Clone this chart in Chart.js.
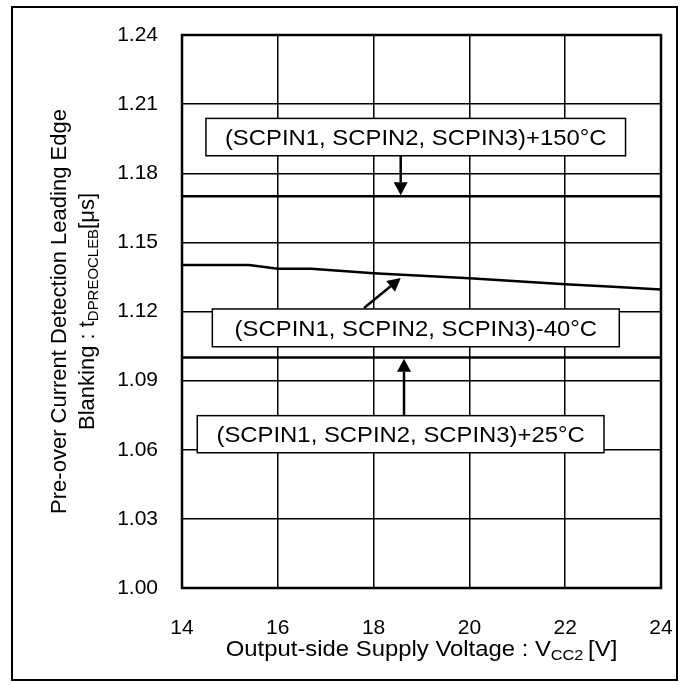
<!DOCTYPE html>
<html>
<head>
<meta charset="utf-8">
<script src="https://cdn.jsdelivr.net/npm/chart.js@4.4.1/dist/chart.umd.min.js"></script>
<style>
  html, body { margin: 0; padding: 0; background: #fff; }
  #wrap { position: relative; width: 686px; height: 685px; }
</style>
</head>
<body>
<div id="wrap"><canvas id="chartTdpreocleb"></canvas></div>
<script>
// 出力側電源電圧 VCC2 [V]
const vcc2 = [14, 15, 15.4, 16, 16.7, 18, 19, 20, 21, 22, 23, 24];
// -40°C の曲線 [μs]
const tMinus40 = [1.1402, 1.1402, 1.1402, 1.1386, 1.1385, 1.1366, 1.1355, 1.1344, 1.1331, 1.1318, 1.1307, 1.1296];
// +25°C / +150°C はほぼ一定
const vcc2Flat = [14, 16, 18, 20, 22, 24];
const tPlus25 = [1.1, 1.1, 1.1, 1.1, 1.1, 1.1];
const tPlus150 = [1.17, 1.17, 1.17, 1.17, 1.17, 1.17];
// 目盛り
const xTicks = [14, 16, 18, 20, 22, 24];
const yTicks = [1.0, 1.03, 1.06, 1.09, 1.12, 1.15, 1.18, 1.21, 1.24];

const FONT = "'Liberation Sans', Arial, sans-serif";
const TEXT_STRETCH = 1.085; // 元画像の文字は横に少し広い

// 注釈ボックス（データ座標）
const labelBoxes = [
  { text: "(SCPIN1, SCPIN2, SCPIN3)+150°C", x0: 14.5, x1: 23.26, y0: 1.1876, y1: 1.2038 },
  { text: "(SCPIN1, SCPIN2, SCPIN3)-40°C", x0: 14.633, x1: 23.129, y0: 1.1047, y1: 1.1211 },
  { text: "(SCPIN1, SCPIN2, SCPIN3)+25°C", x0: 14.319, x1: 22.81, y0: 1.0587, y1: 1.0748 },
];
// 矢印（データ座標）
const arrows = [
  { from: [18.566, 1.1876], to: [18.566, 1.1705] },
  { from: [17.8, 1.1215], to: [18.566, 1.1345] },
  { from: [18.635, 1.0748], to: [18.635, 1.0995] },
];

function toPoints(xs, ys) {
  return xs.map((x, i) => ({ x: x, y: ys[i] }));
}

// 下付き文字を含むテキストを描く（cx, cy は中心）
function drawRich(ctx, parts, cx, cy, size, stretch) {
  let total = 0;
  parts.forEach((p) => {
    ctx.font = (p.sub ? size * 0.68 : size) + "px " + FONT;
    p.w = ctx.measureText(p.t).width;
    total += p.w;
  });
  ctx.save();
  ctx.translate(cx, cy);
  ctx.scale(stretch || 1, 1);
  let x = -total / 2;
  ctx.textAlign = "left";
  ctx.textBaseline = "alphabetic";
  parts.forEach((p) => {
    ctx.font = (p.sub ? size * 0.68 : size) + "px " + FONT;
    ctx.fillText(p.t, x, size * 0.36 + (p.sub ? size * 0.2 : 0));
    x += p.w;
  });
  ctx.restore();
}

const annotatePlugin = {
  id: "annotate",
  afterDatasetsDraw(chart) {
    const ctx = chart.ctx;
    const xs = chart.scales.x;
    const ys = chart.scales.y;
    const area = chart.chartArea;
    ctx.save();
    ctx.strokeStyle = "#000";
    ctx.fillStyle = "#000";

    // プロット枠
    ctx.lineWidth = 2.5;
    ctx.strokeRect(area.left, area.top, area.right - area.left, area.bottom - area.top);

    // ボックス
    labelBoxes.forEach((b) => {
      const l = xs.getPixelForValue(b.x0);
      const r = xs.getPixelForValue(b.x1);
      const t = ys.getPixelForValue(b.y1);
      const btm = ys.getPixelForValue(b.y0);
      ctx.fillStyle = "#fff";
      ctx.fillRect(l, t, r - l, btm - t);
      ctx.lineWidth = 1.5;
      ctx.strokeRect(l, t, r - l, btm - t);
      ctx.fillStyle = "#000";
      drawRich(ctx, [{ t: b.text }], (l + r) / 2, (t + btm) / 2, 22, TEXT_STRETCH);
    });

    // 矢印
    arrows.forEach((a) => {
      const x1 = xs.getPixelForValue(a.from[0]);
      const y1 = ys.getPixelForValue(a.from[1]);
      const x2 = xs.getPixelForValue(a.to[0]);
      const y2 = ys.getPixelForValue(a.to[1]);
      const ang = Math.atan2(y2 - y1, x2 - x1);
      const head = 13;
      const half = 7;
      const bx = x2 - head * Math.cos(ang);
      const by = y2 - head * Math.sin(ang);
      ctx.lineWidth = 2.5;
      ctx.beginPath();
      ctx.moveTo(x1, y1);
      ctx.lineTo(bx, by);
      ctx.stroke();
      ctx.beginPath();
      ctx.moveTo(x2, y2);
      ctx.lineTo(bx + half * Math.sin(ang), by - half * Math.cos(ang));
      ctx.lineTo(bx - half * Math.sin(ang), by + half * Math.cos(ang));
      ctx.closePath();
      ctx.fill();
    });
    ctx.restore();
  },
  afterDraw(chart) {
    const ctx = chart.ctx;
    const area = chart.chartArea;
    ctx.save();
    ctx.fillStyle = "#000";
    ctx.strokeStyle = "#000";

    // 外枠
    ctx.lineWidth = 2;
    ctx.strokeRect(12, 7, 665, 673);

    // X軸タイトル
    drawRich(
      ctx,
      [{ t: "Output-side Supply Voltage : V" }, { t: "CC2", sub: true }, { t: "\u2009[V]" }],
      (area.left + area.right) / 2,
      648,
      22,
      TEXT_STRETCH
    );

    // Y軸タイトル（2行）
    const cy = (area.top + area.bottom) / 2;
    ctx.save();
    ctx.translate(58, cy);
    ctx.rotate(-Math.PI / 2);
    drawRich(ctx, [{ t: "Pre-over Current Detection Leading Edge" }], 0, 0, 22);
    ctx.restore();
    ctx.save();
    ctx.translate(86, cy);
    ctx.rotate(-Math.PI / 2);
    drawRich(ctx, [{ t: "Blanking : t" }, { t: "DPREOCLEB", sub: true }, { t: "[μs]" }], 0, 0, 22);
    ctx.restore();

    ctx.restore();
  },
};

const lineStyle = {
  borderColor: "#000",
  borderWidth: 2.5,
  pointRadius: 0,
  showLine: true,
  fill: false,
  tension: 0,
};

const chartConfig = {
  type: "scatter",
  data: {
    datasets: [
      Object.assign({ label: "+150°C", data: toPoints(vcc2Flat, tPlus150) }, lineStyle),
      Object.assign({ label: "-40°C", data: toPoints(vcc2, tMinus40) }, lineStyle),
      Object.assign({ label: "+25°C", data: toPoints(vcc2Flat, tPlus25) }, lineStyle),
    ],
  },
  options: {
    responsive: true,
    maintainAspectRatio: false,
    animation: false,
    layout: {
      padding: { top: 35, right: 25, left: 0, bottom: 0 },
    },
    plugins: {
      legend: { display: false },
      tooltip: { enabled: false },
    },
    scales: {
      x: {
        type: "linear",
        min: 14,
        max: 24,
        afterBuildTicks: (scale) => {
          scale.ticks = xTicks.map((v) => ({ value: v }));
        },
        afterFit: (scale) => {
          scale.height = 97;
          scale.paddingLeft = 0;
          scale.paddingRight = 0;
        },
        grid: { color: "#000", lineWidth: 1.5, drawTicks: false },
        border: { display: false },
        ticks: {
          color: "#000",
          padding: 28,
          maxRotation: 0,
          font: { family: FONT, size: 21 },
          callback: (v) => String(v),
        },
      },
      y: {
        type: "linear",
        min: 1.0,
        max: 1.24,
        afterBuildTicks: (scale) => {
          scale.ticks = yTicks.map((v) => ({ value: v }));
        },
        afterFit: (scale) => {
          scale.width = 182;
          scale.paddingTop = 0;
          scale.paddingBottom = 0;
        },
        grid: { color: "#000", lineWidth: 1.5, drawTicks: false },
        border: { display: false },
        ticks: {
          color: "#000",
          padding: 24,
          font: { family: FONT, size: 21 },
          callback: (v) => Number(v).toFixed(2),
        },
      },
    },
  },
  plugins: [annotatePlugin],
};

const chartTdpreocleb = new Chart(document.getElementById("chartTdpreocleb"), chartConfig);
</script>
</body>
</html>
